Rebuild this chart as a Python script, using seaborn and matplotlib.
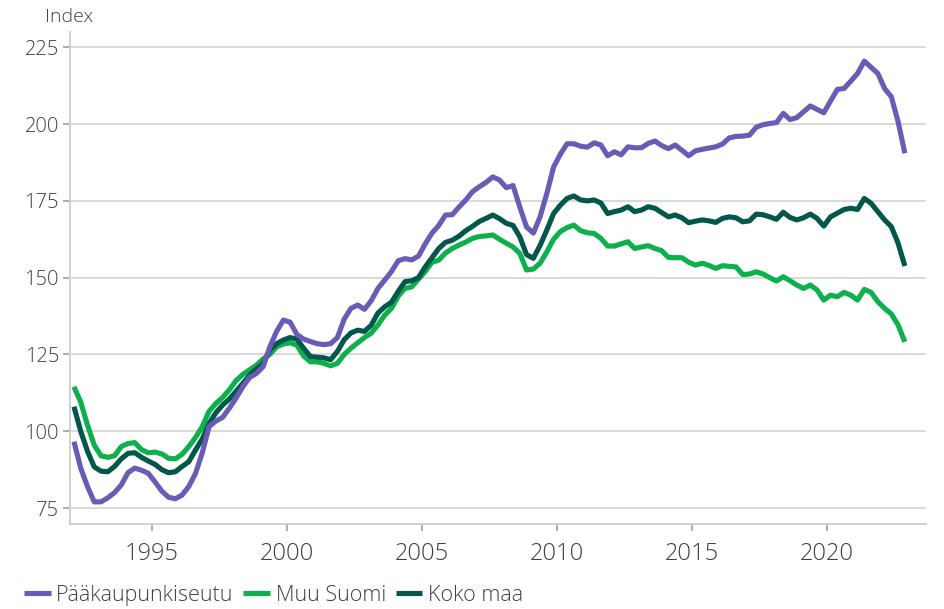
import numpy as np
import pandas as pd
import matplotlib.pyplot as plt
from matplotlib.ticker import FixedLocator
import seaborn as sns

# quarterly index values, 1992Q1 .. 2022Q4
start_year = 1992

paakaupunkiseutu = [
    96.6, 88.0, 82.0, 77.0, 77.0, 78.3, 80.0, 82.5, 86.5, 88.0, 87.3, 86.3,
    83.5, 80.5, 78.5, 78.0, 79.2, 82.0, 86.3, 93.0, 101.5, 103.3, 104.5, 107.5,
    110.8, 114.5, 117.5, 118.8, 121.0, 127.5, 132.5, 136.2, 135.5, 131.5, 130.0, 129.2,
    128.5, 128.2, 128.5, 130.5, 136.5, 140.0, 141.1, 139.7, 142.5, 146.5, 149.2, 152.0,
    155.5, 156.2, 155.8, 157.0, 161.0, 164.5, 167.0, 170.4, 170.5, 173.0, 175.3, 178.0,
    179.6, 181.0, 182.8, 181.8, 179.3, 180.0, 173.0, 166.5, 164.5, 169.8, 177.4, 186.0,
    190.2, 193.6, 193.6, 192.8, 192.5, 193.9, 193.2, 189.7, 191.0, 190.0, 192.6, 192.3,
    192.3, 193.7, 194.5, 193.0, 192.0, 193.2, 191.5, 189.7, 191.3, 191.8, 192.2, 192.6,
    193.5, 195.5, 196.0, 196.1, 196.4, 199.0, 199.8, 200.2, 200.5, 203.5, 201.5, 202.1,
    204.0, 205.9, 204.8, 203.7, 207.5, 211.3, 211.6, 214.0, 216.5, 220.5, 218.5, 216.5,
    211.6, 208.9, 200.8, 190.5,
]

muu_suomi = [
    114.5, 109.5, 102.0, 95.5, 92.0, 91.5, 92.0, 95.0, 96.0, 96.3, 94.0, 93.0,
    93.2, 92.6, 91.2, 91.0, 92.5, 95.0, 98.0, 101.5, 106.5, 109.0, 111.0, 113.5,
    116.5, 118.5, 120.0, 121.5, 123.5, 125.0, 127.5, 128.4, 128.8, 128.0, 124.5, 122.6,
    122.6, 122.1, 121.3, 122.1, 125.0, 127.0, 128.8, 130.5, 131.9, 134.6, 137.8, 140.0,
    144.0, 146.5, 147.0, 149.5, 152.0, 155.0, 155.7, 158.0, 159.5, 160.6, 161.6, 162.8,
    163.4, 163.6, 163.9, 162.5, 161.2, 160.0, 157.9, 152.5, 152.8, 154.7, 158.4, 162.5,
    165.0, 166.3, 167.1, 165.3, 164.6, 164.4, 162.8, 160.3, 160.3, 161.0, 161.7, 159.5,
    160.0, 160.4, 159.5, 158.8, 156.6, 156.5, 156.5, 155.0, 154.1, 154.7, 154.0, 153.0,
    153.9, 153.7, 153.5, 151.0, 151.2, 151.9, 151.2, 150.0, 148.9, 150.3, 149.0, 147.6,
    146.5, 147.6, 146.0, 142.7, 144.3, 143.8, 145.2, 144.3, 142.7, 146.2, 145.2, 142.2,
    140.0, 138.2, 134.6, 129.1,
]

koko_maa = [
    108.0, 100.0, 93.5, 88.4, 87.0, 86.8, 88.5, 91.0, 92.8, 93.0, 91.5, 90.3,
    89.2, 87.5, 86.5, 86.8, 88.5, 90.1, 93.9, 97.5, 102.5, 106.0, 108.5, 110.5,
    113.0, 115.6, 118.2, 120.3, 122.0, 126.5, 128.5, 129.7, 130.5, 130.0, 127.0, 124.3,
    124.1, 123.9, 123.3, 126.0, 129.8, 132.0, 132.9, 132.5, 134.5, 138.5, 140.5, 142.0,
    145.5, 148.7, 149.0, 150.0, 153.5, 156.5, 159.5, 161.5, 162.2, 163.5, 165.3, 166.7,
    168.3, 169.3, 170.4, 169.2, 167.7, 167.0, 163.3, 157.5, 156.3, 160.5, 165.5, 170.9,
    173.6, 175.8, 176.6, 175.3, 175.0, 175.3, 174.3, 170.9, 171.5, 172.0, 173.1, 171.5,
    172.0, 173.1, 172.6, 171.2, 169.8, 170.4, 169.5, 167.9, 168.4, 168.8, 168.5, 168.0,
    169.3, 169.8, 169.5, 168.2, 168.5, 170.7, 170.5, 169.8, 169.0, 171.3, 169.6, 168.8,
    169.5, 170.7, 169.3, 166.8, 169.8, 171.0, 172.2, 172.6, 172.2, 175.8, 174.2, 171.5,
    168.8, 166.6, 161.2, 153.8,
]

series_names = ["Pääkaupunkiseutu", "Muu Suomi", "Koko maa"]
colors = {"Pääkaupunkiseutu": "#6A5BB6", "Muu Suomi": "#0DB14B", "Koko maa": "#00574A"}
y_ticks = [75, 100, 125, 150, 175, 200, 225]
x_ticks = [1995, 2000, 2005, 2010, 2015, 2020]

# quarter -> decimal year (middle of quarter)
quarters = pd.period_range(f"{start_year}Q1", periods=len(koko_maa), freq="Q")
t = np.asarray(quarters.year + (quarters.quarter - 1) / 4 + 0.125, dtype=float)

frames = []
for name, vals in zip(series_names, [paakaupunkiseutu, muu_suomi, koko_maa]):
    frames.append(pd.DataFrame({"t": t, "value": vals, "series": name}))
df = pd.concat(frames, ignore_index=True)

sns.set_theme(style="white")
plt.rcParams["font.family"] = ["Open Sans", "DejaVu Sans"]
plt.rcParams["font.weight"] = "light"

text_col = "#404040"
grid_col = "#d9d9d9"

fig = plt.figure(figsize=(9.44, 6.09), dpi=100)
ax = fig.add_axes([0.0742, 0.1396, 0.9068, 0.8079])

draw_order = ["Muu Suomi", "Koko maa", "Pääkaupunkiseutu"]
sns.lineplot(data=df, x="t", y="value", hue="series", hue_order=draw_order,
             palette=colors, linewidth=3.7, estimator=None, sort=False,
             legend=False, ax=ax)
for ln in ax.lines:
    ln.set_solid_joinstyle("round")
    ln.set_solid_capstyle("butt")

ax.set_xlim(1991.98, 2023.66)
ax.set_ylim(69.8, 230)
ax.xaxis.set_major_locator(FixedLocator(x_ticks))
ax.set_yticks(y_ticks)
ax.set_xlabel("")
ax.set_ylabel("")

ax.yaxis.grid(True, color=grid_col, linewidth=1.4)
ax.xaxis.grid(False)
ax.set_axisbelow(True)

for side in ["top", "right"]:
    ax.spines[side].set_visible(False)
for side in ["left", "bottom"]:
    ax.spines[side].set_color("#d0d0d0")
    ax.spines[side].set_linewidth(1.4)

ax.tick_params(axis="y", direction="out", length=5, width=1.2, color="#a0a0a0",
               labelsize=14.5, labelcolor=text_col, pad=3, left=True)
ax.tick_params(axis="x", direction="out", length=5, width=1.2, color="#a0a0a0",
               labelsize=17, labelcolor=text_col, pad=8, bottom=True)

fig.text(45 / 944, 1 - 17 / 609, "Index", fontsize=14, color=text_col,
         ha="left", va="center")

handles = [ax.lines[draw_order.index(n)] for n in series_names]
fig.legend(handles, series_names, loc="lower left", bbox_to_anchor=(24 / 944, 3 / 609),
           ncol=3, frameon=False, handlelength=1.25, handletextpad=0.25,
           columnspacing=0.45, fontsize=15.5, labelcolor=text_col,
           borderpad=0, borderaxespad=0)

fig.savefig("out.png", dpi=100)
